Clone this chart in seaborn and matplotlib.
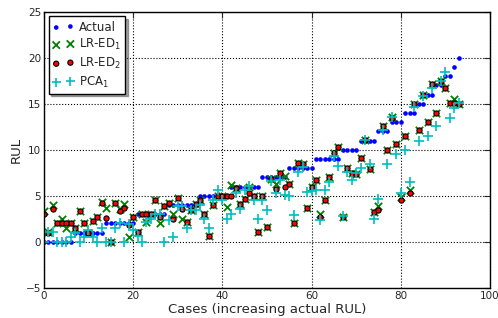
import numpy as np
import pandas as pd
import seaborn as sns
import matplotlib
matplotlib.use('Agg')
import matplotlib.pyplot as plt

# values (cases sorted by actual RUL)
actual = [0]*7 + [1]*7 + [2]*7 + [3]*7 + [4]*7 + [5]*7 + [6]*7 + [7]*6 + [8]*6 + [9]*6 \
    + [10]*4 + [11]*4 + [12]*3 + [13]*3 + [14]*3 + [15]*2 + [16]*2 + [17]*2 + [18]*2 + [19] + [20]

lr_ed2 = [3.0, 1.0, 3.6, 2.0, 2.0, 2.0, 2.0, 1.5, 3.3, 2.0,
          1.0, 2.3, 2.7, 4.2, 2.6, 0.0, 4.2, 3.4, 3.7, 1.8,
          2.7, 1.1, 3.0, 3.0, 3.0, 4.5, 2.7, 3.9, 4.2, 2.5,
          4.8, 3.6, 2.1, 3.5, 4.1, 4.5, 3.0, 0.6, 4.0, 5.0,
          5.0, 5.0, 5.0, 5.9, 4.1, 4.7, 5.3, 5.0, 1.1, 5.0,
          1.6, 6.8, 5.7, 7.5, 6.0, 6.3, 2.0, 8.6, 8.5, 3.7,
          6.0, 6.7, 2.7, 4.5, 7.0, 9.6, 10.3, 2.7, 8.0, 7.5,
          7.4, 9.1, 11.1, 7.9, 3.2, 3.5, 12.6, 10.0, 13.5, 10.6,
          4.5, 11.5, 5.3, 15.0, 12.1, 16.0, 13.0, 17.1, 14.0, 17.5,
          16.7, 15.1, 15.1, 15.0]

lr_ed1 = [3.3, 1.1, 4.0, 2.0, 2.5, 1.5, 2.0, 1.5, 3.3, 2.0,
          1.0, 2.3, 2.7, 4.3, 3.7, 0.0, 4.2, 3.6, 4.1, 0.5,
          2.7, 1.1, 3.0, 2.2, 3.0, 4.5, 2.0, 3.9, 4.2, 3.0,
          4.8, 2.5, 2.1, 3.5, 4.1, 4.5, 3.0, 0.6, 4.0, 5.0,
          5.0, 3.8, 6.2, 5.9, 4.1, 4.7, 6.0, 5.0, 1.1, 5.0,
          1.6, 6.8, 6.3, 7.5, 7.1, 6.3, 2.0, 8.6, 8.5, 3.7,
          6.0, 6.7, 3.0, 4.5, 7.0, 9.6, 10.3, 2.7, 8.0, 7.5,
          7.4, 9.1, 11.1, 7.9, 3.2, 3.9, 12.6, 10.0, 13.6, 10.6,
          4.9, 11.5, 5.6, 15.0, 12.1, 16.0, 13.0, 17.1, 14.0, 17.5,
          16.7, 15.1, 15.5, 15.0]

pca1 = [0.0, 1.1, 1.1, 0.0, 0.0, 0.0, 0.5, 1.0, 0.0, 0.5,
        1.3, 0.5, 0.0, 1.5, 0.0, 0.0, 1.5, 2.0, 0.0, 1.9,
        1.3, 0.6, 0.0, 2.2, 2.5, 3.0, 3.0, 0.0, 2.4, 0.5,
        3.9, 3.9, 1.5, 3.5, 3.5, 4.0, 2.5, 1.5, 4.5, 5.6,
        4.5, 2.5, 3.0, 5.3, 3.6, 5.6, 6.1, 4.5, 2.5, 4.5,
        3.5, 6.6, 5.3, 6.7, 5.1, 5.0, 2.9, 7.6, 8.1, 5.4,
        5.5, 5.6, 2.4, 5.6, 6.5, 9.3, 8.2, 2.8, 7.6, 6.7,
        7.5, 8.0, 11.1, 8.5, 2.5, 4.7, 12.1, 8.5, 13.6, 9.5,
        5.3, 10.0, 6.5, 14.6, 11.0, 15.8, 11.5, 16.7, 12.6, 17.5,
        18.5, 13.5, 14.5, 15.1]

cases = np.arange(len(actual))

df = pd.DataFrame({'Case': cases, 'Actual': actual, 'LR-ED1': lr_ed1,
                   'LR-ED2': lr_ed2, 'PCA1': pca1})

sns.set_style('white')
plt.rcParams['font.family'] = ['DejaVu Sans']

fig = plt.figure(figsize=(4.98, 3.18), dpi=100)
ax = fig.add_axes([0.088, 0.095, 0.896, 0.868])

sns.scatterplot(data=df, x='Case', y='Actual', ax=ax, color='b', marker='o',
                s=11, linewidth=0, label='Actual')
sns.scatterplot(data=df, x='Case', y='LR-ED1', ax=ax, color='g', marker='x',
                s=28, linewidth=1.3, label='LR-ED$_1$')
sns.scatterplot(data=df, x='Case', y='LR-ED2', ax=ax, color='r', marker='o',
                s=14, edgecolor='k', linewidth=0.8, label='LR-ED$_2$')
sns.scatterplot(data=df, x='Case', y='PCA1', ax=ax, color='c', marker='+',
                s=45, linewidth=1.2, label='PCA$_1$')

ax.set_xlim(0, 100)
ax.set_ylim(-5, 25)
ax.set_xticks([0, 20, 40, 60, 80, 100])
ax.set_yticks([-5, 0, 5, 10, 15, 20, 25])
ax.grid(True, linestyle=':', color='k', linewidth=0.8)
ax.tick_params(direction='in', top=True, right=True, labelsize=7.5,
               length=4, pad=2)
for sp in ax.spines.values():
    sp.set_color('k')
    sp.set_linewidth(1.0)

ax.set_xlabel('Cases (increasing actual RUL)', fontsize=9.5, labelpad=2)
ax.set_ylabel('RUL', fontsize=9.5, labelpad=2)

leg = ax.legend(loc='upper left', scatterpoints=2, fontsize=8.5, frameon=True,
                shadow=True, fancybox=False, borderaxespad=0.4,
                borderpad=0.35, handletextpad=0.4, labelspacing=0.3,
                handlelength=1.8)
leg.get_frame().set_edgecolor('k')
leg.get_frame().set_alpha(1)

fig.savefig('out.png', dpi=100)
